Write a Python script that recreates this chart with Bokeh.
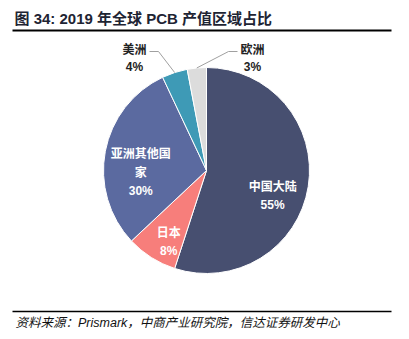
import math
from bokeh.plotting import figure
from bokeh.models import Range1d
from bokeh.core.properties import value
from bokeh.embed import file_html
from bokeh.resources import INLINE

# ---- data ----
regions = ["中国大陆", "日本", "亚洲其他国家", "美洲", "欧洲"]
shares = [55, 8, 30, 4, 3]
label_lines = [["中国大陆"], ["日本"], ["亚洲其他国", "家"], ["美洲"], ["欧洲"]]
colors = ["#474F70", "#F77E7B", "#5B6AA0", "#3E9AB6", "#DCDCDC"]
title_text = "图 34:  2019 年全球 PCB 产值区域占比"
source_text = "资料来源：Prismark，中商产业研究院，信达证券研发中心"

# ---- layout (screen coordinates, y downward) ----
W, H = 409, 339
CX, CY, R = 206, 170, 103
FONT = "'Liberation Sans', 'Noto Sans CJK SC'"


def Y(sy):
    return H - sy


p = figure(width=W, height=H, x_range=Range1d(0, W), y_range=Range1d(0, H),
           output_backend="svg", toolbar_location=None, min_border=0)
p.axis.visible = False
p.grid.visible = False
p.outline_line_color = None
p.background_fill_color = "white"
p.border_fill_color = "white"

total = float(sum(shares))
cum = 0.0
starts, ends, mids = [], [], []
for s in shares:
    f0 = cum / total
    cum += s
    f1 = cum / total
    starts.append(math.pi / 2 - 2 * math.pi * f0)
    ends.append(math.pi / 2 - 2 * math.pi * f1)
    mids.append(2 * math.pi * (f0 + f1) / 2)

p.wedge(x=[CX] * len(shares), y=[Y(CY)] * len(shares), radius=R,
        start_angle=starts, end_angle=ends, direction="clock",
        fill_color=colors, line_color="white", line_width=1)

# inside labels
for i in range(3):
    ang = mids[i]
    lx = CX + 0.65 * R * math.sin(ang) - (2 if i == 1 else 0)
    ly = CY - 0.65 * R * math.cos(ang) + 15
    lines = label_lines[i] + ["%d%%" % shares[i]]
    n = len(lines)
    step = 18.5
    for k, t in enumerate(lines):
        sy = ly + (k - (n - 1) / 2) * step
        p.text(x=[lx], y=[Y(sy)], text=[t], text_color="white",
               text_font=value(FONT), text_font_style="bold",
               text_font_size="12px", text_align="center",
               text_baseline="middle")

# outside labels with leader lines
outside = {3: (134, -1), 4: (252, 1)}
for i, (lx, side) in outside.items():
    ny, py = 49, 66
    p.text(x=[lx], y=[Y(ny)], text=[label_lines[i][0]], text_color="#222222",
           text_font=value(FONT), text_font_style="bold",
           text_font_size="12px", text_align="center", text_baseline="middle")
    p.text(x=[lx], y=[Y(py)], text=["%d%%" % shares[i]], text_color="#222222",
           text_font=value(FONT), text_font_style="bold",
           text_font_size="12px", text_align="center", text_baseline="middle")
    ang = mids[i]
    ex = CX + R * math.sin(ang)
    ey = CY - R * math.cos(ang)
    x0 = lx - side * 15
    x1 = lx - side * 24
    p.line(x=[x0, x1, ex], y=[Y(51), Y(51), Y(ey)], line_color="#A0A0A0",
           line_width=1)

# title and rules
p.text(x=[14], y=[Y(18)], text=[title_text], text_color="#1E2433",
       text_font=value(FONT), text_font_style="bold", text_font_size="15px",
       text_align="left", text_baseline="middle")
p.line(x=[12, 391], y=[Y(30), Y(30)], line_color="black", line_width=2)
p.line(x=[12, 391], y=[Y(311), Y(311)], line_color="black", line_width=1.5)
p.text(x=[15], y=[Y(322)], text=[source_text], text_color="#111111",
       text_font=value(FONT), text_font_style="italic", text_font_size="12.5px",
       text_align="left", text_baseline="middle")

open("out.html", "w").write(file_html(p, INLINE))
